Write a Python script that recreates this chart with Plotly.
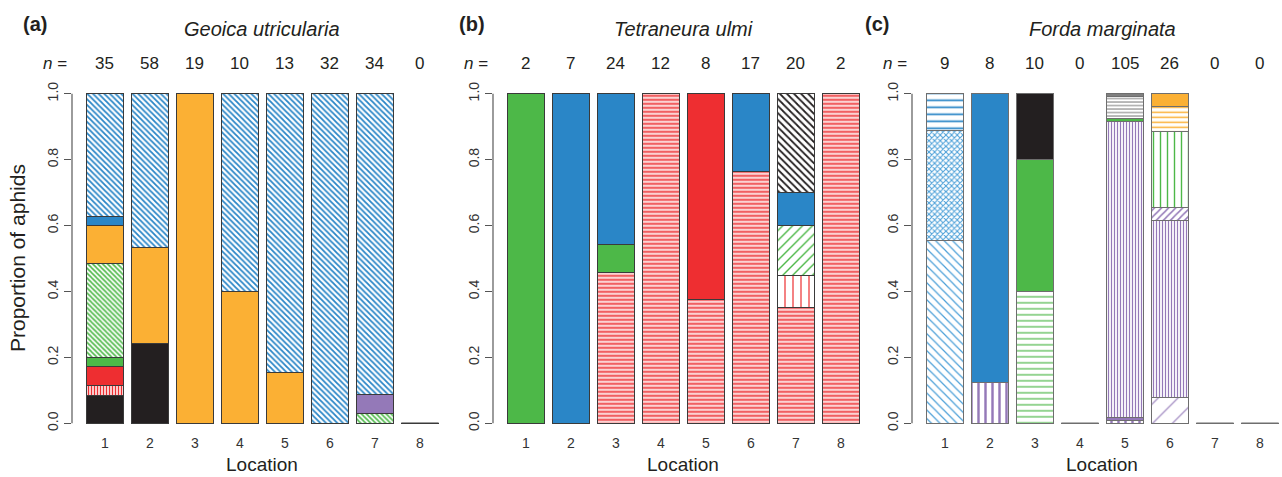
import plotly.graph_objects as go

# ---------------- data (counts of aphids per clone / genotype) ----------------
LOCATIONS = [1, 2, 3, 4, 5, 6, 7, 8]
TICK_LABELS = ["1", "2", "3", "4", "5", "6", "7", "8"]
Y_TICKS = [0.0, 0.2, 0.4, 0.6, 0.8, 1.0]
Y_TICK_LABELS = ["0.0", "0.2", "0.4", "0.6", "0.8", "1.0"]

# Panel (a) Geoica utricularia
A_TITLE = "Geoica utricularia"
A_N = [35, 58, 19, 10, 13, 32, 34, 0]
A_BLACK = [3, 14, 0, 0, 0, 0, 0, 0]
A_RED_VSTRIPE = [1, 0, 0, 0, 0, 0, 0, 0]
A_RED = [2, 0, 0, 0, 0, 0, 0, 0]
A_GREEN = [1, 0, 0, 0, 0, 0, 0, 0]
A_GREEN_HATCH = [10, 0, 0, 0, 0, 0, 1, 0]
A_PURPLE = [0, 0, 0, 0, 0, 0, 2, 0]
A_ORANGE = [4, 17, 19, 4, 2, 0, 0, 0]
A_BLUE = [1, 0, 0, 0, 0, 0, 0, 0]
A_BLUE_HATCH = [13, 27, 0, 6, 11, 32, 31, 0]

# Panel (b) Tetraneura ulmi
B_TITLE = "Tetraneura ulmi"
B_N = [2, 7, 24, 12, 8, 17, 20, 2]
B_RED_HSTRIPE = [0, 0, 11, 12, 3, 13, 7, 2]
B_RED_VSTRIPE = [0, 0, 0, 0, 0, 0, 2, 0]
B_RED = [0, 0, 0, 0, 5, 0, 0, 0]
B_GREEN_HATCH = [0, 0, 0, 0, 0, 0, 3, 0]
B_GREEN = [2, 0, 2, 0, 0, 0, 0, 0]
B_BLUE = [0, 7, 11, 0, 0, 4, 2, 0]
B_BLACK_HATCH = [0, 0, 0, 0, 0, 0, 6, 0]

# Panel (c) Forda marginata
C_TITLE = "Forda marginata"
C_N = [9, 8, 10, 0, 105, 26, 0, 0]
C_PURPLE_DIAG = [0, 0, 0, 0, 0, 2, 0, 0]
C_PURPLE_VSPARSE = [0, 1, 0, 0, 1, 0, 0, 0]
C_PURPLE = [0, 0, 0, 0, 1, 0, 0, 0]
C_PURPLE_VDENSE = [0, 0, 0, 0, 94, 14, 0, 0]
C_PURPLE_DIAG_DENSE = [0, 0, 0, 0, 0, 1, 0, 0]
C_BLUE_DIAG = [5, 0, 0, 0, 0, 0, 0, 0]
C_BLUE_CROSS = [3, 0, 0, 0, 0, 0, 0, 0]
C_BLUE_HSTRIPE = [1, 0, 0, 0, 0, 0, 0, 0]
C_BLUE = [0, 7, 0, 0, 0, 0, 0, 0]
C_GREEN_HSTRIPE = [0, 0, 4, 0, 0, 0, 0, 0]
C_GREEN_VSTRIPE = [0, 0, 0, 0, 0, 6, 0, 0]
C_GREEN = [0, 0, 4, 0, 1, 0, 0, 0]
C_BLACK = [0, 0, 2, 0, 0, 0, 0, 0]
C_GRAY_HSTRIPE = [0, 0, 0, 0, 7, 0, 0, 0]
C_GRAY = [0, 0, 0, 0, 1, 0, 0, 0]
C_ORANGE_HSTRIPE = [0, 0, 0, 0, 0, 2, 0, 0]
C_ORANGE = [0, 0, 0, 0, 0, 1, 0, 0]

# ---------------- styles ----------------
BLUE = "#2a86c7"
LBLUE = "#4a9fd8"
ORANGE = "#fbb034"
GREEN = "#4db848"
RED = "#ee2e31"
BLACK = "#231f20"
PURPLE = "#9479b8"
GRAY = "#808080"
WHITE = "#ffffff"


def solid(c):
    return dict(color=c)


def pat(shape, fg, bg=WHITE, size=6, solidity=0.3):
    return dict(color=bg, pattern=dict(shape=shape, fgcolor=fg, bgcolor=bg,
                                       size=size, solidity=solidity, fillmode="replace"))


panels = [
    dict(title=A_TITLE, n=A_N, edge="#3a3a3a", segs=[
        (A_BLACK, solid(BLACK)),
        (A_RED_VSTRIPE, pat("|", RED, size=3, solidity=0.5)),
        (A_RED, solid(RED)),
        (A_GREEN, solid(GREEN)),
        (A_GREEN_HATCH, pat("\\", GREEN, size=3.5, solidity=0.45)),
        (A_PURPLE, solid(PURPLE)),
        (A_ORANGE, solid(ORANGE)),
        (A_BLUE, solid(BLUE)),
        (A_BLUE_HATCH, pat("\\", BLUE, size=4, solidity=0.45)),
    ]),
    dict(title=B_TITLE, n=B_N, edge="#3a3a3a", segs=[
        (B_RED_HSTRIPE, pat("-", RED, bg="#fbd2d2", size=4, solidity=0.35)),
        (B_RED_VSTRIPE, pat("|", RED, size=8, solidity=0.15)),
        (B_RED, solid(RED)),
        (B_GREEN_HATCH, pat("/", GREEN, size=7, solidity=0.2)),
        (B_GREEN, solid(GREEN)),
        (B_BLUE, solid(BLUE)),
        (B_BLACK_HATCH, pat("\\", BLACK, size=5, solidity=0.35)),
    ]),
    dict(title=C_TITLE, n=C_N, edge="#6e6e6e", segs=[
        (C_PURPLE_DIAG, pat("/", PURPLE, size=14, solidity=0.08)),
        (C_PURPLE_VSPARSE, pat("|", PURPLE, size=7, solidity=0.35)),
        (C_PURPLE, solid(PURPLE)),
        (C_PURPLE_VDENSE, pat("|", PURPLE, size=3, solidity=0.4)),
        (C_PURPLE_DIAG_DENSE, pat("/", PURPLE, size=5, solidity=0.3)),
        (C_BLUE_DIAG, pat("\\", LBLUE, size=6, solidity=0.2)),
        (C_BLUE_CROSS, pat("x", LBLUE, size=4, solidity=0.45)),
        (C_BLUE_HSTRIPE, pat("-", BLUE, size=7, solidity=0.25)),
        (C_BLUE, solid(BLUE)),
        (C_GREEN_HSTRIPE, pat("-", GREEN, size=6, solidity=0.2)),
        (C_GREEN_VSTRIPE, pat("|", GREEN, size=7, solidity=0.2)),
        (C_GREEN, solid(GREEN)),
        (C_BLACK, solid(BLACK)),
        (C_GRAY_HSTRIPE, pat("-", GRAY, size=3.5, solidity=0.3)),
        (C_GRAY, solid(GRAY)),
        (C_ORANGE_HSTRIPE, pat("-", ORANGE, size=5, solidity=0.3)),
        (C_ORANGE, solid(ORANGE)),
    ]),
]

W, H = 1282, 477
AXIS_PX = [72, 493, 912]
PANEL_W = 370
X_RANGE = [0.267, 8.49]
Y_RANGE = [-0.012, 1.012]
Y_DOMAIN = [1 - 430.1 / H, 1 - 83.9 / H]
BAR_W = 0.83
TXT = "#231f20"
FONT = "Liberation Sans, Arial, Helvetica, sans-serif"

fig = go.Figure()
layout = dict(
    width=W, height=H, autosize=False,
    margin=dict(l=0, r=0, t=0, b=0),
    paper_bgcolor="white", plot_bgcolor="white",
    barmode="stack", showlegend=False,
    font=dict(family=FONT, color=TXT),
)
shapes = []
annotations = []

for i, p in enumerate(panels):
    sfx = "" if i == 0 else str(i + 1)
    xa, ya = "x" + sfx, "y" + sfx
    n = p["n"]
    for counts, style in p["segs"]:
        props = [c / t if t > 0 else 0 for c, t in zip(counts, n)]
        marker = dict(style)
        marker["line"] = dict(color=p["edge"], width=1)
        fig.add_trace(go.Bar(x=LOCATIONS, y=props, width=BAR_W, marker=marker,
                             xaxis=xa, yaxis=ya, hoverinfo="skip"))
    d0 = AXIS_PX[i] / W
    d1 = min(1.0, (AXIS_PX[i] + PANEL_W) / W)
    layout["xaxis" + sfx] = dict(domain=[d0, d1], range=X_RANGE, anchor=ya,
                                 tickvals=LOCATIONS, ticktext=TICK_LABELS,
                                 showline=False, showgrid=False, zeroline=False,
                                 ticks="", ticklabelstandoff=6,
                                 tickfont=dict(size=14, color="#333"))
    layout["yaxis" + sfx] = dict(domain=Y_DOMAIN, range=Y_RANGE, anchor=xa,
                                 tickvals=Y_TICKS, ticktext=Y_TICK_LABELS,
                                 tickangle=-90, ticks="outside", ticklen=7,
                                 tickcolor="#555", tickwidth=1,
                                 showline=False, showgrid=False, zeroline=False,
                                 tickfont=dict(size=14, color="#333"))
    shapes.append(dict(type="line", xref=xa + " domain", yref=ya,
                       x0=0, x1=0, y0=Y_TICKS[0], y1=Y_TICKS[-1],
                       line=dict(color="#666", width=1.3)))
    for loc, tot in zip(LOCATIONS, n):
        if tot == 0:
            shapes.append(dict(type="line", xref=xa, yref=ya,
                               x0=loc - BAR_W / 2, x1=loc + BAR_W / 2, y0=0, y1=0,
                               line=dict(color=p["edge"], width=1.5)))
    mid = (LOCATIONS[0] + LOCATIONS[-1]) / 2
    annotations.append(dict(text="<i>%s</i>" % p["title"], xref=xa, yref="paper",
                            x=mid, y=1 - 22 / H, showarrow=False,
                            font=dict(size=20, color=TXT), yanchor="middle"))
    for loc, tot in zip(LOCATIONS, n):
        annotations.append(dict(text=str(tot), xref=xa, yref="paper",
                                x=loc, y=1 - 57 / H, showarrow=False,
                                font=dict(size=17, color=TXT), yanchor="middle"))
    annotations.append(dict(text="<i>n</i> =", xref="paper", yref="paper",
                            x=(AXIS_PX[i] - 3) / W, y=1 - 57 / H, showarrow=False,
                            xanchor="right", yanchor="middle",
                            font=dict(size=17, color=TXT)))
    annotations.append(dict(text="Location", xref=xa, yref="paper",
                            x=mid, y=1 - 468 / H, showarrow=False,
                            font=dict(size=19, color=TXT), yanchor="middle"))

for lab, px in zip(["(a)", "(b)", "(c)"], [21, 472, 891]):
    annotations.append(dict(text="<b>%s</b>" % lab, xref="paper", yref="paper",
                            x=px / W, y=1 - 16 / H, showarrow=False,
                            font=dict(size=20, color=TXT), yanchor="middle"))

annotations.append(dict(text="Proportion of aphids", xref="paper", yref="paper",
                        x=17.5 / W, y=1 - 257 / H, textangle=-90, showarrow=False,
                        font=dict(size=21, color=TXT), xanchor="center", yanchor="middle"))

layout["shapes"] = shapes
layout["annotations"] = annotations
fig.update_layout(**layout)
fig.write_html("out.html", config={"displayModeBar": False},
               post_script="document.body.style.margin='0px';document.body.style.padding='0px';")
